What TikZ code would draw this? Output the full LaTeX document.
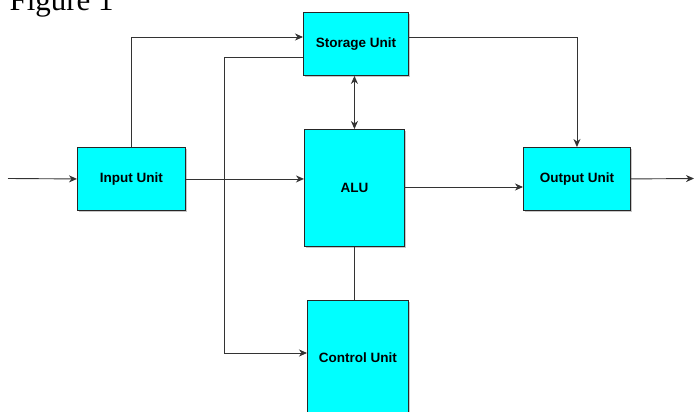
\documentclass[tikz,border=0pt]{standalone}
\usepackage{fontspec}
\setmainfont{Liberation Sans}
\newfontfamily\figfont{Liberation Serif}
\usetikzlibrary{shadows,arrows.meta}
\definecolor{boxcyan}{HTML}{00FFFF}
\tikzset{
  unitbox/.style={draw=black!85, line width=0.9pt, fill=boxcyan, anchor=north west,
    inner sep=0pt, font=\fontsize{13.5}{15}\selectfont\bfseries,
    drop shadow={shadow xshift=2pt, shadow yshift=-2pt, fill=black, opacity=0.22}},
  conn/.style={draw=black!80, line width=0.9pt},
  tipk/.style={Stealth[length=8pt,width=7pt,inset=2.5pt]},
  arr/.style={conn, -{Stealth[length=8pt,width=7pt,inset=2.5pt]}},
  arrtwo/.style={conn, {Stealth[length=8pt,width=7pt,inset=2.5pt]}-{Stealth[length=8pt,width=7pt,inset=2.5pt]}},
}
\begin{document}
\begin{tikzpicture}[x=1pt,y=-1pt]
\useasboundingbox (0,0) rectangle (694,412);
\node[anchor=base west, font=\figfont\fontsize{31}{31}\selectfont] (title) at (6,11) {Figure 1};
\node[unitbox, minimum width=105pt, minimum height=63pt] (storage) at (303,12) {Storage Unit};
\node[unitbox, minimum width=108pt, minimum height=63pt] (input) at (77,147) {Input Unit};
\node[unitbox, minimum width=100pt, minimum height=117pt] (alu) at (304,129) {ALU};
\node[unitbox, minimum width=107pt, minimum height=63pt] (output) at (523,147) {Output Unit};
\node[unitbox, minimum width=101pt, minimum height=115pt] (control) at (307,300) {Control Unit};
\coordinate (inL) at (8,178.5);
\coordinate (s1) at (303,37);
\coordinate (s2) at (303,57);
\coordinate (k1) at (224,57);
\coordinate (k2) at (224,353);
\coordinate (c1) at (307,353);
\coordinate (s3) at (408,37);
\coordinate (a1) at (404,187);
\coordinate (o1) at (523,187);
\coordinate (outR) at (694,178.5);
\draw[arr] (inL) -- (input.west);
\draw[arr] (input.north) |- (s1);
\draw[arr] (input.east) -- (input.east -| alu.west);
\draw[arr] (s2) -- (k1) -- (k2) -- (c1);
\draw[arrtwo] (storage.south -| alu.north) -- (alu.north);
\draw[arr] (s3) -| (output.north);
\draw[arr] (a1) -- (o1);
\draw[arr] (output.east) -- (outR);
\draw[conn] (alu.south) -- (alu.south |- control.north);
\end{tikzpicture}
\end{document}
